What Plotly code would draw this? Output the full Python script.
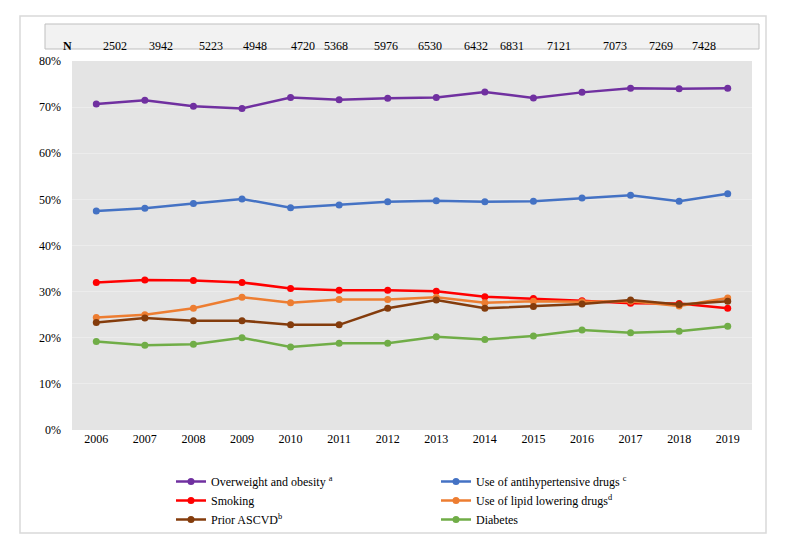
import plotly.graph_objects as go

years = [2006, 2007, 2008, 2009, 2010, 2011, 2012, 2013, 2014, 2015, 2016, 2017, 2018, 2019]
n_values = [2502, 3942, 5223, 4948, 4720, 5368, 5976, 6530, 6432, 6831, 7121, 7073, 7269, 7428]

overweight = [70.7, 71.5, 70.2, 69.7, 72.1, 71.6, 71.9, 72.1, 73.3, 72.0, 73.2, 74.1, 74.0, 74.1]
antihypertensive = [47.5, 48.1, 49.1, 50.1, 48.2, 48.8, 49.5, 49.7, 49.5, 49.6, 50.3, 50.9, 49.6, 51.2]
smoking = [32.0, 32.5, 32.4, 32.0, 30.7, 30.3, 30.3, 30.1, 28.9, 28.5, 28.0, 27.5, 27.4, 26.4]
lipid_lowering = [24.4, 25.0, 26.4, 28.8, 27.6, 28.3, 28.3, 28.8, 27.6, 27.9, 27.8, 27.9, 26.9, 28.6]
prior_ascvd = [23.3, 24.3, 23.7, 23.7, 22.8, 22.8, 26.4, 28.2, 26.4, 26.8, 27.3, 28.2, 27.2, 27.9]
diabetes = [19.2, 18.4, 18.6, 20.0, 18.0, 18.8, 18.8, 20.2, 19.6, 20.4, 21.7, 21.1, 21.4, 22.5]

# (name, values, colour, legend column)
series = [
    ("Overweight and obesity <sup>a</sup>", overweight, "#7030a0", "legend"),
    ("Use of antihypertensive drugs <sup>c</sup>", antihypertensive, "#4472c4", "legend2"),
    ("Smoking", smoking, "#ff0000", "legend"),
    ("Use of lipid lowering drugs<sup>d</sup>", lipid_lowering, "#ed7d31", "legend2"),
    ("Prior ASCVD<sup>b</sup>", prior_ascvd, "#843c0c", "legend"),
    ("Diabetes", diabetes, "#70ad47", "legend2"),
]

# layout geometry (screen pixels; page body adds an 8px offset)
OFF = 8
W, H = 787, 551
PLOT_L, PLOT_R, PLOT_T, PLOT_B = 72, 752, 61, 430
ML, MT = PLOT_L - OFF, PLOT_T - OFF
MR, MB = W - (PLOT_R - OFF), H - (PLOT_B - OFF)
PW = PLOT_R - PLOT_L
PH = PLOT_B - PLOT_T
n_label_px = [101, 147, 197, 241, 289, 336, 386, 430, 476, 526, 573, 629, 675, 718]

def px2x(px):
    return (px - PLOT_L) / PW

def py2y(py):
    return 1 - (py - PLOT_T) / PH

FONT = "Liberation Serif"

fig = go.Figure()
for name, vals, col, leg in series:
    fig.add_trace(go.Scatter(
        x=years, y=vals, name=name, mode="lines+markers",
        line=dict(color=col, width=2.5),
        marker=dict(color=col, size=7),
        legend=leg,
    ))

shapes = [
    dict(type="rect", xref="paper", yref="paper",
         x0=px2x(20), x1=px2x(766), y0=py2y(533), y1=py2y(16),
         line=dict(color="#d9d9d9", width=1.5), fillcolor="rgba(0,0,0,0)", layer="below"),
    dict(type="rect", xref="paper", yref="paper",
         x0=px2x(45), x1=px2x(759), y0=py2y(49), y1=py2y(24),
         line=dict(color="#bfbfbf", width=1), fillcolor="#f2f2f2", layer="below"),
]

annotations = [dict(text="<b>N</b>", xref="paper", yref="paper", x=px2x(61), y=py2y(37),
                    showarrow=False, font=dict(family=FONT, size=12, color="#000000"))]
for px, n in zip(n_label_px, n_values):
    annotations.append(dict(text=str(n), xref="paper", yref="paper", x=px2x(px), y=py2y(37),
                            showarrow=False, font=dict(family=FONT, size=12, color="#000000")))

legend_common = dict(
    orientation="v", xanchor="left", yanchor="top", tracegroupgap=0,
    font=dict(family=FONT, size=12, color="#000000"), bgcolor="rgba(0,0,0,0)",
    borderwidth=0, traceorder="normal",
)

fig.update_layout(
    width=W, height=H,
    margin=dict(l=ML, r=MR, t=MT, b=MB, autoexpand=False),
    paper_bgcolor="#ffffff",
    plot_bgcolor="#e4e4e4",
    font=dict(family=FONT, size=12, color="#000000"),
    shapes=shapes,
    annotations=annotations,
    xaxis=dict(
        tickmode="array", tickvals=years, ticktext=[str(y) for y in years],
        range=[2005.5, 2019.5], showgrid=False, zeroline=False,
        ticks="", showline=False, tickfont=dict(size=12),
    ),
    yaxis=dict(
        range=[0, 80], dtick=10, ticksuffix="%", showgrid=True,
        gridcolor="#ececec", gridwidth=1, zeroline=False, showline=False,
        ticks="", ticklabelstandoff=10, tickfont=dict(size=12),
    ),
    legend=dict(x=px2x(171), y=py2y(467), **legend_common),
    legend2=dict(x=px2x(436), y=py2y(467), **legend_common),
    showlegend=True,
)

fig.write_html("out.html")
